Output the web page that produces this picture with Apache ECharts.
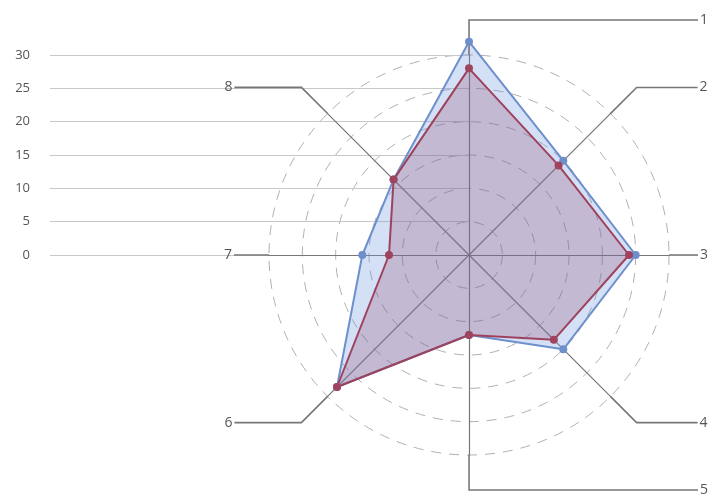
<!DOCTYPE html>
<html>
<head>
<meta charset="utf-8">
<script src="https://cdn.jsdelivr.net/npm/echarts@6/dist/echarts.min.js"></script>
<style>
  html, body { margin: 0; padding: 0; background: #fff; }
  #main { width: 715px; height: 496px; }
</style>
</head>
<body>
<div id="main"></div>
<script>
// spokes, clockwise from the top
const spokes = ['1', '2', '3', '4', '5', '6', '7', '8'];
const yTicks = [0, 5, 10, 15, 20, 25, 30];
const blueValues = [32, 20, 25, 20, 12, 28, 16, 16];
const redValues = [28, 19, 24, 18, 12, 28, 12, 16];

// radar goes counter-clockwise, so feed it 1,8,7,...,2
const ccwOrder = [0, 7, 6, 5, 4, 3, 2, 1];
const reorder = arr => ccwOrder.map(i => arr[i]);

const cx = 469, cy = 255, R = 200;

// leader lines for the spoke names: [radial length, horizontal length]
const leaders = [
  [35, 229], [37, 61], [0, 29], [37, 61],
  [35, 229], [37, 67], [35, 0], [37, 67]
];
// slice widths nudged a hair so 1 and 5 both put their label on the right
const sliceDeg = [45, 45, 45, 44.98, 45, 45.02, 45, 45];

const chart = echarts.init(document.getElementById('main'));

chart.setOption({
  animation: false,
  grid: { left: 50, right: 245, top: 55, bottom: 241 },
  xAxis: { type: 'value', show: false },
  yAxis: {
    type: 'value',
    min: yTicks[0],
    max: yTicks[yTicks.length - 1],
    interval: 5,
    axisLine: { show: false },
    axisTick: { show: false },
    axisLabel: { color: '#555', fontSize: 13, margin: 20, fontFamily: 'Open Sans' },
    splitLine: { lineStyle: { color: '#c8c8c8', width: 1 } }
  },
  radar: {
    center: [cx, cy],
    radius: R,
    startAngle: 90,
    splitNumber: 6,
    shape: 'circle',
    indicator: reorder(spokes).map(n => ({ name: n, min: 0, max: 30 })),
    axisName: { show: false },
    axisLine: { lineStyle: { color: '#777', width: 1.2 } },
    splitLine: { lineStyle: { color: '#b0b0b0', type: [10, 8], width: 1 } },
    splitArea: { show: false }
  },
  series: [
    {
      type: 'radar',
      symbol: 'circle',
      symbolSize: 8,
      data: [
        {
          value: reorder(blueValues),
          lineStyle: { color: '#6e8fca', width: 2 },
          itemStyle: { color: '#6e8fca' },
          areaStyle: { color: 'rgba(110,150,225,0.42)' }
        },
        {
          value: reorder(redValues),
          lineStyle: { color: '#a0435d', width: 2 },
          itemStyle: { color: '#a0435d' },
          areaStyle: { color: 'rgba(140,60,95,0.35)' }
        }
      ]
    },
    {
      type: 'pie',
      silent: true,
      center: [cx, cy],
      radius: [0, R],
      startAngle: 112.49,
      avoidLabelOverlap: false,
      itemStyle: { color: 'rgba(0,0,0,0)' },
      emphasis: { disabled: true },
      label: {
        color: '#555',
        fontSize: 14,
        fontFamily: 'Open Sans',
        distanceToLabelLine: 2
      },
      labelLine: { lineStyle: { color: '#777', width: 1.6 } },
      data: spokes.map((n, i) => ({
        name: n,
        value: sliceDeg[i],
        labelLine: { length: leaders[i][0], length2: leaders[i][1] }
      }))
    }
  ]
});
</script>
</body>
</html>
